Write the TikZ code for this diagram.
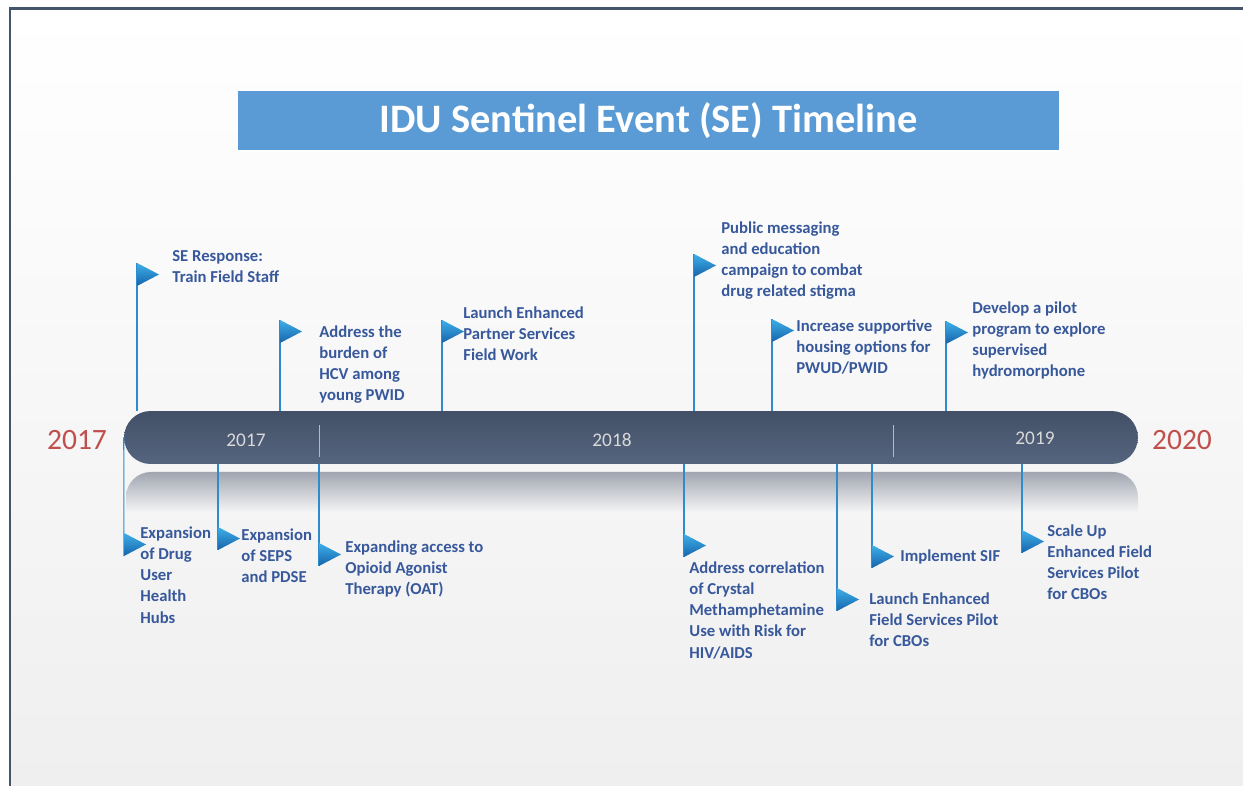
\documentclass[tikz,border=0pt]{standalone}
\usepackage{fontspec}
\setmainfont{Carlito}
\usepackage{tikz}
\usetikzlibrary{positioning}
\usepackage{xcolor}
\definecolor{sestitle}{RGB}{91,155,213}
\definecolor{seframe}{RGB}{68,84,106}
\definecolor{sebartop}{RGB}{66,80,103}
\definecolor{sebarbot}{RGB}{86,101,126}
\definecolor{setext}{RGB}{55,88,155}
\definecolor{sepole}{RGB}{46,140,205}
\definecolor{seflaglt}{RGB}{62,175,232}
\definecolor{seflagdk}{RGB}{22,100,172}
\definecolor{sered}{RGB}{192,80,77}
\definecolor{sebg}{RGB}{239,239,239}
\definecolor{serefl}{RGB}{160,165,176}
\tikzstyle{pole} = [color=sepole, line width=0.6pt]
\tikzstyle{flagshade} = [top color=seflaglt, bottom color=seflagdk]
\tikzstyle{evt} = [anchor=north west, inner sep=0pt, align=left, text=setext,
  font=\bfseries\fontsize{9.5}{12.1}\selectfont]
\tikzstyle{bar} = [minimum width=20.28cm, minimum height=1.06cm, rounded corners=0.53cm,
  top color=sebartop, bottom color=sebarbot, inner sep=0pt]
\tikzstyle{baryear} = [text=white!85!black, font=\fontsize{11}{13}\selectfont]
\tikzstyle{bigyear} = [text=sered, font=\fontsize{16.8}{19}\selectfont]

\begin{document}
\begin{tikzpicture}[x=0.02cm, y=-0.02cm]
\useasboundingbox (0,0) rectangle (1243,786);

% Background and frame
\fill[white] (0,0) rectangle (1243,786);
\shade[top color=white, bottom color=sebg] (10,9) rectangle (1243,786);
\draw[seframe, line width=1.3pt] (10,786) -- (10,8.5) -- (1243,8.5);

% Title
\node[fill=sestitle, minimum width=16.42cm, minimum height=1.18cm, inner sep=0pt,
  text=white, font=\bfseries\fontsize{23}{27}\selectfont] (title) at (648.5,120.5)
  {IDU Sentinel Event (SE) Timeline};
\draw[white, line width=0.8pt] (238,151) -- (1060,151) -- (1060,91);

% Reflection under the bar
\shade[top color=serefl, bottom color=sebg!64!white]
  (126,512) [rounded corners=0.5cm] -- (126,472) -- (1138,472) [sharp corners] -- (1138,512) -- cycle;

% Timeline bar
\node[bar] (bar) at (631,437.5) {};
\draw[white!60!sebartop, line width=0.5pt] (319,425) -- (319,457);
\draw[white!60!sebartop, line width=0.5pt] (893,425) -- (893,457);
\node[baryear] (b17) at (246,440) {2017};
\node[baryear] (b18) at (612,440) {2018};
\node[baryear] (b19) at (1035,438) {2019};

\node[bigyear] (y17) at (77,440) {2017};
\node[bigyear] (y20) at (1182,440) {2020};

% Milestones above
\coordinate (u1) at (137,263);
\draw[pole] (bar.north -| u1) -- (u1);
\shade[flagshade] (u1) -- ++(0,23) -- ++(22,-11.5) -- cycle;
\node[evt] (e1) at (172,250) {SE Response:\\Train Field Staff};

\coordinate (u2) at (280,320);
\draw[pole] (bar.north -| u2) -- (u2);
\shade[flagshade] (u2) -- ++(0,23) -- ++(22,-11.5) -- cycle;
\node[evt] (e2) at (319,325) {Address the\\burden of\\HCV among\\young PWID};

\coordinate (u3) at (442,320);
\draw[pole] (bar.north -| u3) -- (u3);
\shade[flagshade] (u3) -- ++(0,23) -- ++(22,-11.5) -- cycle;
\node[evt] (e3) at (463,306) {Launch Enhanced\\Partner Services\\Field Work};

\coordinate (u4) at (694,254);
\draw[pole] (bar.north -| u4) -- (u4);
\shade[flagshade] (u4) -- ++(0,23) -- ++(22,-11.5) -- cycle;
\node[evt] (e4) at (721,221) {Public messaging\\and education\\campaign to combat\\drug related stigma};

\coordinate (u5) at (772,319);
\draw[pole] (bar.north -| u5) -- (u5);
\shade[flagshade] (u5) -- ++(0,23) -- ++(22,-11.5) -- cycle;
\node[evt] (e5) at (796,319) {Increase supportive\\housing options for\\PWUD/PWID};

\coordinate (u6) at (946,321);
\draw[pole] (bar.north -| u6) -- (u6);
\shade[flagshade] (u6) -- ++(0,23) -- ++(22,-11.5) -- cycle;
\node[evt] (e6) at (972,301) {Develop a pilot\\program to explore\\supervised\\hydromorphone};

% Milestones below
\coordinate (l1) at (124,556);
\draw[pole] (bar.west) -- (l1);
\shade[flagshade] (l1) -- ++(0,-23) -- ++(22,11.5) -- cycle;
\node[evt] (e7) at (140,526) {Expansion\\of Drug\\User\\Health\\Hubs};

\coordinate (l2) at (218,550);
\draw[pole] (bar.south -| l2) -- (l2);
\shade[flagshade] (l2) -- ++(0,-23) -- ++(22,11.5) -- cycle;
\node[evt] (e8) at (241,528) {Expansion\\of SEPS\\and PDSE};

\coordinate (l3) at (319,566);
\draw[pole] (bar.south -| l3) -- (l3);
\shade[flagshade] (l3) -- ++(0,-23) -- ++(22,11.5) -- cycle;
\node[evt] (e9) at (345,540) {Expanding access to\\Opioid Agonist\\Therapy (OAT)};

\coordinate (l4) at (684,557);
\draw[pole] (bar.south -| l4) -- (l4);
\shade[flagshade] (l4) -- ++(0,-23) -- ++(22,11.5) -- cycle;
\node[evt] (e10) at (689,561) {Address correlation\\of Crystal\\Methamphetamine\\Use with Risk for\\HIV/AIDS};

\coordinate (l5) at (837,611);
\draw[pole] (bar.south -| l5) -- (l5);
\shade[flagshade] (l5) -- ++(0,-23) -- ++(22,11.5) -- cycle;
\node[evt] (e11) at (869,592) {Launch Enhanced\\Field Services Pilot\\for CBOs};

\coordinate (l6) at (872,568);
\draw[pole] (bar.south -| l6) -- (l6);
\shade[flagshade] (l6) -- ++(0,-23) -- ++(22,11.5) -- cycle;
\node[evt] (e12) at (900,549) {Implement SIF};

\coordinate (l7) at (1022,553);
\draw[pole] (bar.south -| l7) -- (l7);
\shade[flagshade] (l7) -- ++(0,-23) -- ++(22,11.5) -- cycle;
\node[evt] (e13) at (1047,524) {Scale Up\\Enhanced Field\\Services Pilot\\for CBOs};
\end{tikzpicture}
\end{document}
